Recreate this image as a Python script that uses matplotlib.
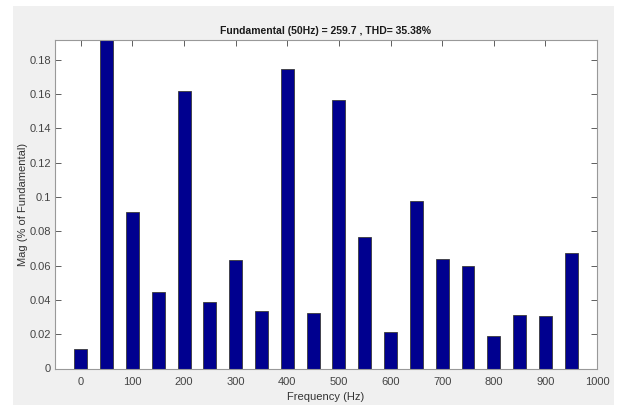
import matplotlib
matplotlib.use("Agg")
import matplotlib.pyplot as plt
from matplotlib.patches import Rectangle

# harmonic spectrum, relative to fundamental (50 Hz bar clipped by ylim)
freqs = [0, 50, 100, 150, 200, 250, 300, 350, 400, 450,
         500, 550, 600, 650, 700, 750, 800, 850, 900, 950]
mags = [0.0111, 1.0, 0.0913, 0.0445, 0.1619, 0.0388, 0.0633, 0.0336, 0.1747, 0.0321,
        0.1564, 0.0765, 0.0214, 0.0976, 0.0637, 0.0600, 0.0187, 0.0310, 0.0304, 0.0672]
xticks = list(range(0, 1001, 100))
yticks = [0, 0.02, 0.04, 0.06, 0.08, 0.1, 0.12, 0.14, 0.16, 0.18]
ytick_labels = ["0", "0.02", "0.04", "0.06", "0.08", "0.1", "0.12", "0.14", "0.16", "0.18"]

plt.rcParams['font.family'] = ['Liberation Sans', 'DejaVu Sans']

fig = plt.figure(figsize=(6.18, 4.05), dpi=100)
fig.patch.set_facecolor('white')
# MATLAB-style grey figure panel
fig.patches.append(Rectangle((13 / 618, 0), (614 - 13) / 618, (405 - 6) / 405,
                             transform=fig.transFigure, facecolor='#f0f0f0',
                             edgecolor='none', zorder=-10))

ax = fig.add_axes([55 / 618, 36.5 / 405, (597 - 55) / 618, (368.5 - 39.5) / 405])
ax.set_facecolor('white')
ax.bar(freqs, mags, width=25, color='#00008f', edgecolor='#3a3a3a', linewidth=0.6, zorder=2)

ax.set_xlim(-50, 1000)
ax.set_ylim(0, 0.1917)
ax.set_xticks(xticks)
ax.set_xticklabels([str(t) for t in xticks])
ax.set_yticks(yticks)
ax.set_yticklabels(ytick_labels)
ax.tick_params(direction='in', length=4, width=0.6, colors='#444444', labelsize=8,
               top=True, right=True, pad=6)
ax.tick_params(axis='y', pad=3)
for s in ax.spines.values():
    s.set_color('#999999')
    s.set_linewidth(0.8)

ax.set_title('Fundamental (50Hz) = 259.7 , THD= 35.38%', fontsize=7.5, fontweight='bold',
             color='#1a1a1a', pad=4)
ax.set_xlabel('Frequency (Hz)', fontsize=8, color='#333333')
ax.set_ylabel('Mag (% of Fundamental)', fontsize=8, color='#333333')
ax.xaxis.set_label_coords(0.5, -0.072)
ax.yaxis.set_label_coords(-0.05, 0.5)

fig.savefig('out.png', dpi=100)
